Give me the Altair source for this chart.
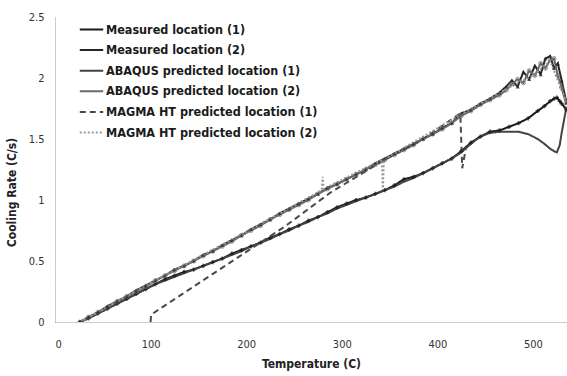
import altair as alt
import pandas as pd

# ---- data ----
T_grid = [26, 35, 45, 55, 65, 75, 85, 95, 105, 115, 125, 135, 145, 155, 165, 175, 185, 195,
          205, 215, 225, 235, 245, 255, 265, 275, 285, 295, 305, 315, 325, 335, 345, 355,
          365, 375, 385, 395, 405, 415, 425, 435, 445, 455]

meas2_T_end = [465, 472, 478, 484, 490, 496, 502, 508, 513, 518, 522, 526, 530, 535]
meas2 = [0.00, 0.04, 0.08, 0.13, 0.17, 0.21, 0.26, 0.30, 0.34, 0.38, 0.43, 0.46, 0.50, 0.55,
         0.58, 0.63, 0.67, 0.71, 0.76, 0.80, 0.84, 0.89, 0.93, 0.97, 1.01, 1.05, 1.10, 1.13,
         1.17, 1.21, 1.25, 1.30, 1.34, 1.38, 1.42, 1.46, 1.50, 1.54, 1.59, 1.63, 1.71, 1.74,
         1.79, 1.83,
         1.88, 1.93, 1.98, 1.93, 2.05, 1.99, 2.10, 2.03, 2.16, 2.18, 2.08, 2.12, 1.98, 1.80]
abaq2 = [0.00, 0.04, 0.08, 0.12, 0.17, 0.21, 0.25, 0.29, 0.34, 0.38, 0.42, 0.46, 0.50, 0.54,
         0.58, 0.62, 0.66, 0.71, 0.75, 0.79, 0.84, 0.88, 0.92, 0.96, 1.00, 1.05, 1.09, 1.13,
         1.17, 1.21, 1.25, 1.29, 1.33, 1.37, 1.41, 1.45, 1.50, 1.54, 1.58, 1.63, 1.69, 1.73,
         1.78, 1.82,
         1.86, 1.90, 1.95, 1.99, 1.96, 2.06, 2.02, 2.12, 2.08, 2.15, 2.16, 2.02, 1.92, 1.78]

loc1_T_end = [465, 475, 485, 495, 505, 512, 518, 522, 525, 528, 530, 535]
meas1 = [0.00, 0.03, 0.07, 0.11, 0.15, 0.19, 0.23, 0.27, 0.31, 0.35, 0.38, 0.41, 0.43, 0.46,
         0.49, 0.52, 0.56, 0.59, 0.62, 0.65, 0.69, 0.72, 0.76, 0.79, 0.83, 0.86, 0.90, 0.94,
         0.97, 1.00, 1.02, 1.05, 1.08, 1.12, 1.17, 1.19, 1.22, 1.26, 1.30, 1.34, 1.40, 1.47,
         1.52, 1.56,
         1.57, 1.60, 1.63, 1.67, 1.73, 1.77, 1.81, 1.83, 1.84, 1.81, 1.79, 1.74]
abaq1 = [0.00, 0.03, 0.07, 0.11, 0.15, 0.19, 0.23, 0.27, 0.31, 0.34, 0.37, 0.40, 0.43, 0.46,
         0.49, 0.52, 0.55, 0.58, 0.62, 0.65, 0.68, 0.72, 0.75, 0.79, 0.82, 0.86, 0.89, 0.93,
         0.96, 0.99, 1.02, 1.05, 1.08, 1.11, 1.15, 1.18, 1.22, 1.26, 1.30, 1.34, 1.39, 1.46,
         1.52, 1.55,
         1.56, 1.56, 1.56, 1.54, 1.50, 1.46, 1.42, 1.40, 1.39, 1.45, 1.55, 1.76]

magma1_T = [100, 100.5, 172, 240, 288, 345, 385, 424, 426, 430]
magma1 = [0.00, 0.06, 0.43, 0.78, 1.06, 1.33, 1.50, 1.71, 1.26, 1.43]

magma2_T = [26, 100, 200, 279, 280, 281, 342, 343, 344, 424, 470, 500, 518, 535]
magma2 = [0.00, 0.32, 0.74, 1.08, 1.19, 1.09, 1.33, 1.08, 1.33, 1.70, 1.90, 2.02, 2.14, 1.80]

series_names = ["Measured location (1)", "Measured location (2)",
                "ABAQUS predicted location (1)", "ABAQUS predicted location (2)",
                "MAGMA HT predicted location (1)", "MAGMA HT predicted location (2)"]

y_ticks = [0, 0.5, 1, 1.5, 2, 2.5]
x_ticks = [0, 100, 200, 300, 400, 500]

# ---- build table ----
rows = []
def add(name, ts, vs):
    for i, (t, v) in enumerate(zip(ts, vs)):
        rows.append({"series": name, "T": t, "R": v, "order": i})

add(series_names[0], T_grid + loc1_T_end, meas1)
add(series_names[1], T_grid + meas2_T_end, meas2)
add(series_names[2], T_grid + loc1_T_end, abaq1)
add(series_names[3], T_grid + meas2_T_end, abaq2)
add(series_names[4], magma1_T, magma1)
add(series_names[5], magma2_T, magma2)
df = pd.DataFrame(rows)

FONT = "'DejaVu Sans Condensed', 'Liberation Sans', sans-serif"
colors = ["#1a1a1a", "#262626", "#444444", "#6a6a6a", "#4a4a4a", "#9a9a9a"]
dashes = [[1, 0], [1, 0], [1, 0], [1, 0], [6, 4], [2, 2]]
widths = [2.0, 2.0, 1.5, 1.7, 1.4, 1.2]

x_enc = alt.X("T:Q", scale=alt.Scale(domain=[0, 535.6], nice=False, zero=False),
              axis=alt.Axis(values=x_ticks, title="Temperature (C)", grid=False, format="d",
                            ticks=False, domainColor="#9a9a9a", domainDash=[1, 1],
                            domainWidth=1, labelPadding=16, labelFontSize=11,
                            labelColor="#333", titleFontSize=12, titlePadding=9,
                            titleColor="#222"))
y_enc = alt.Y("R:Q", scale=alt.Scale(domain=[0, 2.5], nice=False),
              axis=alt.Axis(values=y_ticks, title="Cooling Rate (C/s)", grid=False, format="~g",
                            ticks=False, domainColor="#9a9a9a", domainDash=[1, 1],
                            domainWidth=1, labelPadding=11, labelFontSize=11,
                            labelColor="#333", titleFontSize=12, titleColor="#222",
                            titleX=-37, titleY=175, titleAnchor="middle"))

lines = alt.Chart(df).mark_line(clip=True).encode(
    x=x_enc, y=y_enc,
    order="order:Q",
    color=alt.Color("series:N", scale=alt.Scale(domain=series_names, range=colors),
                    legend=alt.Legend(title=None, orient="none", legendX=27, legendY=3,
                                      symbolType="M-1.4,0H1.4", symbolSize=280,
                                      symbolStrokeWidth=1.6, labelFontSize=12.5,
                                      labelFont=FONT, labelFontWeight="bold",
                                      labelColor="#1a1a1a", rowPadding=4.6,
                                      labelOffset=5, labelLimit=400)),
    strokeDash=alt.StrokeDash("series:N", scale=alt.Scale(domain=series_names, range=dashes),
                              legend=None),
    strokeWidth=alt.StrokeWidth("series:N", scale=alt.Scale(domain=series_names, range=widths),
                                legend=None),
)

def pts(name, shape, color, size, filled=True):
    return alt.Chart(df[df.series == name]).mark_point(
        shape=shape, size=size, filled=filled, color=color, clip=True,
        strokeWidth=1).encode(x="T:Q", y="R:Q")

chart = alt.layer(
    lines,
    pts(series_names[0], "cross", "#1a1a1a", 18),
    pts(series_names[1], "triangle-up", "#262626", 18),
    pts(series_names[3], "circle", "#6a6a6a", 16, filled=False),
).properties(
    width=512, height=305,
    padding={"left": 55, "top": 17, "right": 0, "bottom": 54},
    autosize=alt.AutoSizeParams(type="none"),
).configure(font=FONT).configure_axis(
    labelFont=FONT, titleFont=FONT, titleFontWeight="bold"
).configure_view(stroke=None)

chart.save("out.html", embed_options={"renderer": "svg", "actions": False})
